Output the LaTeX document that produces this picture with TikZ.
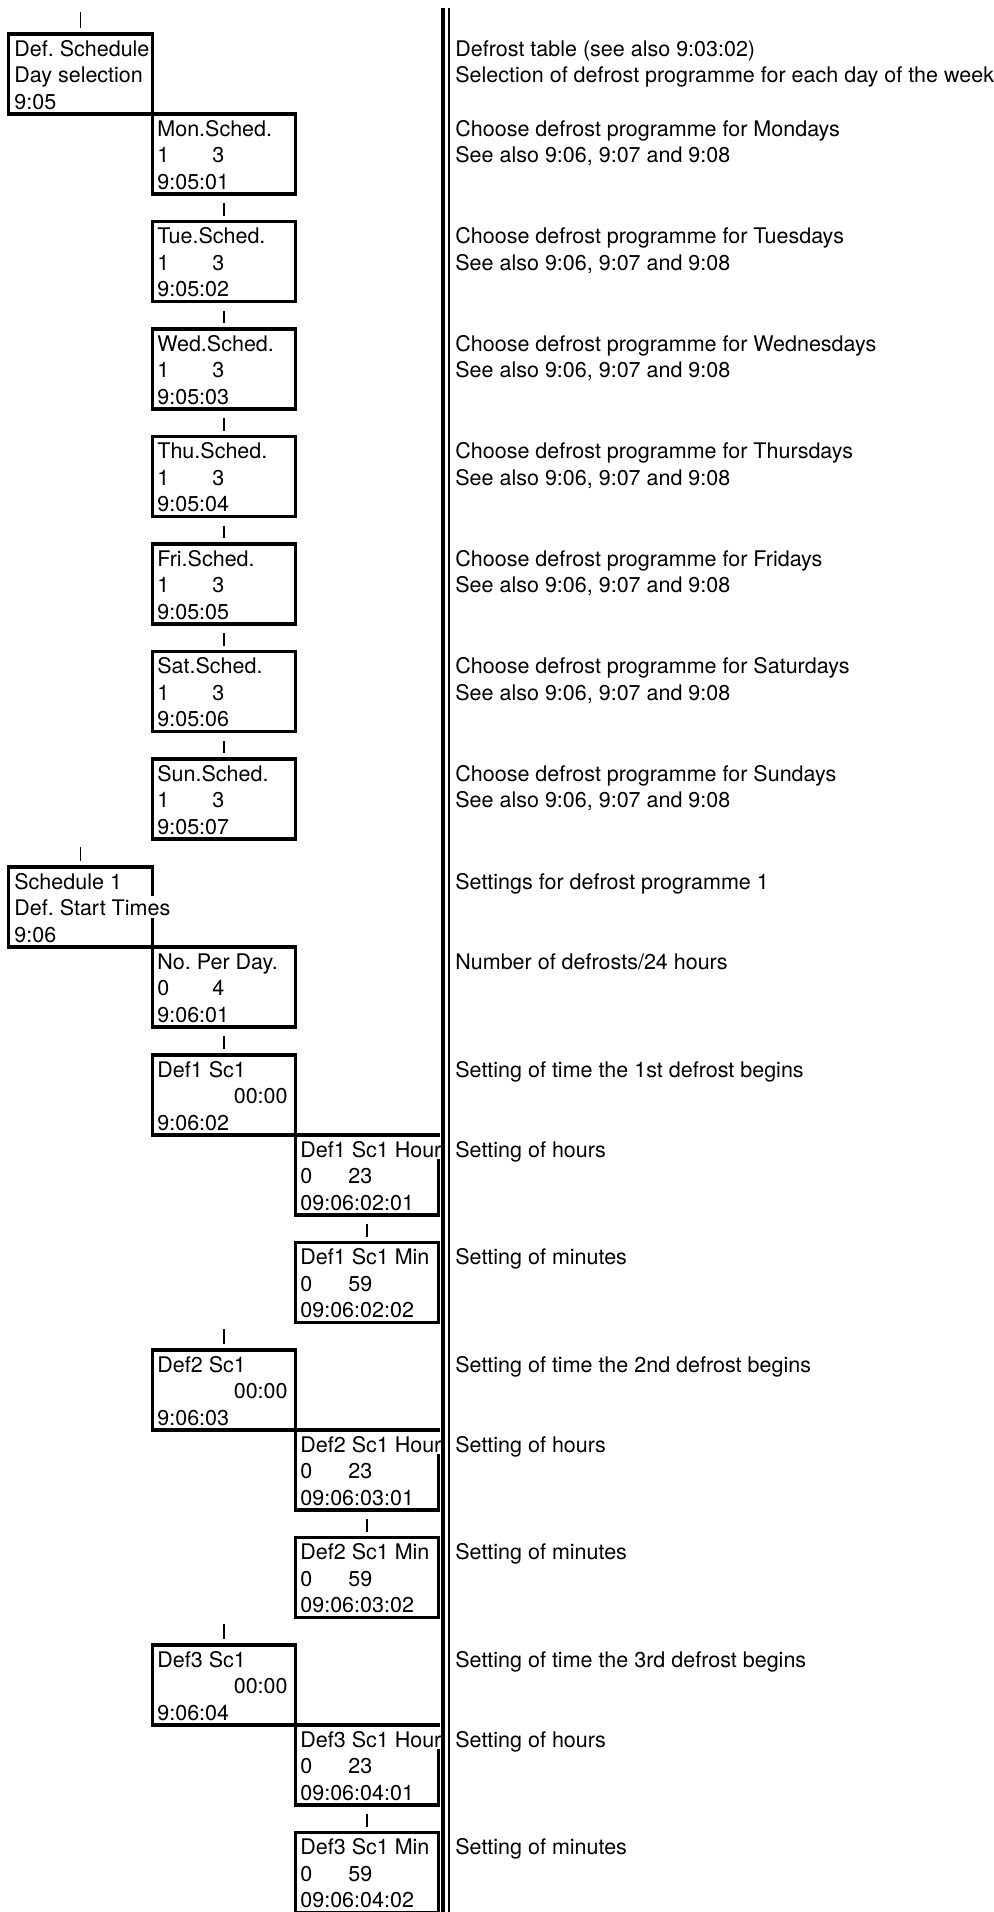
\documentclass[tikz,border=0pt]{standalone}
\usepackage{fontspec}
\setmainfont{TeX Gyre Heros}
\usepackage{tikz}
\frenchspacing
\tikzset{
  menubox/.style={draw=black,line width=1.6pt,inner sep=0pt,minimum height=40pt},
  colone/.style={menubox,minimum width=72pt},
  coltwo/.style={menubox,minimum width=71.5pt},
  menuline/.style={anchor=base west,fill=white,inner xsep=0.5pt,inner ysep=0pt,
                   text height=10pt,text depth=1.2pt,
                   font=\fontsize{10.75}{13}\selectfont},
  menuval/.style={menuline,anchor=base east},
  desc/.style={anchor=base west,inner sep=0pt,font=\fontsize{10.75}{13}\selectfont},
  tick/.style={line width=0.9pt,shorten >=2pt},
  seqtick/.style={tick,shorten <=3.75pt},
  thickrule/.style={line width=1.6pt},
  thinrule/.style={line width=1pt}
}

\begin{document}
\begin{tikzpicture}[x=0.5pt,y=0.5pt]
  \path[use as bounding box] (0,0) rectangle (994,-1912);

  % 9:05 day selection
  \node[colone] (defsched) at (80.5,-74) {};
  \node[menuline] (defsched-a) at (13,-56) {Def. Schedule};
  \node[menuline] (defsched-b) at (13,-82.5) {Day selection};
  \node[menuline] (defsched-c) at (13,-109) {9:05};
  \node[desc] (defsched-x) at (455,-56) {Defrost table (see also 9:03:02)};
  \node[desc] (defsched-y) at (455,-82.5) {Selection of defrost programme for each day of the week};

  \node[coltwo] (mon) at (224,-154) {};
  \node[menuline] (mon-a) at (156,-136) {Mon.Sched.};
  \node[menuline] (mon-b) at (156,-162.5) {1};
  \node[menuline] (mon-c) at (211,-162.5) {3};
  \node[menuline] (mon-d) at (156,-189) {9:05:01};
  \node[desc] (mon-x) at (455,-136) {Choose defrost programme for Mondays};
  \node[desc] (mon-y) at (455,-162.5) {See also 9:06, 9:07 and 9:08};

  \node[coltwo] (tue) at (224,-261.5) {};
  \node[menuline] (tue-a) at (156,-243.5) {Tue.Sched.};
  \node[menuline] (tue-b) at (156,-270) {1};
  \node[menuline] (tue-c) at (211,-270) {3};
  \node[menuline] (tue-d) at (156,-296.5) {9:05:02};
  \node[desc] (tue-x) at (455,-243.5) {Choose defrost programme for Tuesdays};
  \node[desc] (tue-y) at (455,-270) {See also 9:06, 9:07 and 9:08};

  \node[coltwo] (wed) at (224,-369) {};
  \node[menuline] (wed-a) at (156,-351) {Wed.Sched.};
  \node[menuline] (wed-b) at (156,-377.5) {1};
  \node[menuline] (wed-c) at (211,-377.5) {3};
  \node[menuline] (wed-d) at (156,-404) {9:05:03};
  \node[desc] (wed-x) at (455,-351) {Choose defrost programme for Wednesdays};
  \node[desc] (wed-y) at (455,-377.5) {See also 9:06, 9:07 and 9:08};

  \node[coltwo] (thu) at (224,-476.5) {};
  \node[menuline] (thu-a) at (156,-458.5) {Thu.Sched.};
  \node[menuline] (thu-b) at (156,-485) {1};
  \node[menuline] (thu-c) at (211,-485) {3};
  \node[menuline] (thu-d) at (156,-511.5) {9:05:04};
  \node[desc] (thu-x) at (455,-458.5) {Choose defrost programme for Thursdays};
  \node[desc] (thu-y) at (455,-485) {See also 9:06, 9:07 and 9:08};

  \node[coltwo] (fri) at (224,-584) {};
  \node[menuline] (fri-a) at (156,-566) {Fri.Sched.};
  \node[menuline] (fri-b) at (156,-592.5) {1};
  \node[menuline] (fri-c) at (211,-592.5) {3};
  \node[menuline] (fri-d) at (156,-619) {9:05:05};
  \node[desc] (fri-x) at (455,-566) {Choose defrost programme for Fridays};
  \node[desc] (fri-y) at (455,-592.5) {See also 9:06, 9:07 and 9:08};

  \node[coltwo] (sat) at (224,-691.5) {};
  \node[menuline] (sat-a) at (156,-673.5) {Sat.Sched.};
  \node[menuline] (sat-b) at (156,-700) {1};
  \node[menuline] (sat-c) at (211,-700) {3};
  \node[menuline] (sat-d) at (156,-726.5) {9:05:06};
  \node[desc] (sat-x) at (455,-673.5) {Choose defrost programme for Saturdays};
  \node[desc] (sat-y) at (455,-700) {See also 9:06, 9:07 and 9:08};

  \node[coltwo] (sun) at (224,-799) {};
  \node[menuline] (sun-a) at (156,-781) {Sun.Sched.};
  \node[menuline] (sun-b) at (156,-807.5) {1};
  \node[menuline] (sun-c) at (211,-807.5) {3};
  \node[menuline] (sun-d) at (156,-834) {9:05:07};
  \node[desc] (sun-x) at (455,-781) {Choose defrost programme for Sundays};
  \node[desc] (sun-y) at (455,-807.5) {See also 9:06, 9:07 and 9:08};

  % 9:06 start times
  \node[colone] (sched1) at (80.5,-907) {};
  \node[menuline] (sched1-a) at (13,-889) {Schedule 1};
  \node[menuline] (sched1-b) at (13,-915.5) {Def. Start Times};
  \node[menuline] (sched1-c) at (13,-942) {9:06};
  \node[desc] (sched1-x) at (455,-889) {Settings for defrost programme 1};

  \node[coltwo] (perday) at (224,-987) {};
  \node[menuline] (perday-a) at (156,-969) {No. Per Day.};
  \node[menuline] (perday-b) at (156,-995.5) {0};
  \node[menuline] (perday-c) at (211,-995.5) {4};
  \node[menuline] (perday-d) at (156,-1022) {9:06:01};
  \node[desc] (perday-x) at (455,-969) {Number of defrosts/24 hours};

  \node[coltwo] (def1) at (224,-1095) {};
  \node[menuline] (def1-a) at (156,-1077) {Def1 Sc1};
  \node[menuval] (def1-b) at (289,-1103.5) {00:00};
  \node[menuline] (def1-c) at (156,-1130) {9:06:02};
  \node[desc] (def1-x) at (455,-1077) {Setting of time the 1st defrost begins};

  \node[coltwo] (def1h) at (367,-1175) {};
  \node[menuline] (def1h-a) at (299,-1157) {Def1 Sc1 Hour};
  \node[menuline] (def1h-b) at (299,-1183.5) {0};
  \node[menuline] (def1h-c) at (347,-1183.5) {23};
  \node[menuline] (def1h-d) at (299,-1210) {09:06:02:01};
  \node[desc] (def1h-x) at (455,-1157) {Setting of hours};

  \node[coltwo] (def1m) at (367,-1282.5) {};
  \node[menuline] (def1m-a) at (299,-1264.5) {Def1 Sc1 Min};
  \node[menuline] (def1m-b) at (299,-1291) {0};
  \node[menuline] (def1m-c) at (347,-1291) {59};
  \node[menuline] (def1m-d) at (299,-1317.5) {09:06:02:02};
  \node[desc] (def1m-x) at (455,-1264.5) {Setting of minutes};

  \node[coltwo] (def2) at (224,-1390) {};
  \node[menuline] (def2-a) at (156,-1372) {Def2 Sc1};
  \node[menuval] (def2-b) at (289,-1398.5) {00:00};
  \node[menuline] (def2-c) at (156,-1425) {9:06:03};
  \node[desc] (def2-x) at (455,-1372) {Setting of time the 2nd defrost begins};

  \node[coltwo] (def2h) at (367,-1470) {};
  \node[menuline] (def2h-a) at (299,-1452) {Def2 Sc1 Hour};
  \node[menuline] (def2h-b) at (299,-1478.5) {0};
  \node[menuline] (def2h-c) at (347,-1478.5) {23};
  \node[menuline] (def2h-d) at (299,-1505) {09:06:03:01};
  \node[desc] (def2h-x) at (455,-1452) {Setting of hours};

  \node[coltwo] (def2m) at (367,-1577.5) {};
  \node[menuline] (def2m-a) at (299,-1559.5) {Def2 Sc1 Min};
  \node[menuline] (def2m-b) at (299,-1586) {0};
  \node[menuline] (def2m-c) at (347,-1586) {59};
  \node[menuline] (def2m-d) at (299,-1612.5) {09:06:03:02};
  \node[desc] (def2m-x) at (455,-1559.5) {Setting of minutes};

  \node[coltwo] (def3) at (224,-1685) {};
  \node[menuline] (def3-a) at (156,-1667) {Def3 Sc1};
  \node[menuval] (def3-b) at (289,-1693.5) {00:00};
  \node[menuline] (def3-c) at (156,-1720) {9:06:04};
  \node[desc] (def3-x) at (455,-1667) {Setting of time the 3rd defrost begins};

  \node[coltwo] (def3h) at (367,-1765) {};
  \node[menuline] (def3h-a) at (299,-1747) {Def3 Sc1 Hour};
  \node[menuline] (def3h-b) at (299,-1773.5) {0};
  \node[menuline] (def3h-c) at (347,-1773.5) {23};
  \node[menuline] (def3h-d) at (299,-1800) {09:06:04:01};
  \node[desc] (def3h-x) at (455,-1747) {Setting of hours};

  \node[coltwo] (def3m) at (367,-1872.5) {};
  \node[menuline] (def3m-a) at (299,-1854.5) {Def3 Sc1 Min};
  \node[menuline] (def3m-b) at (299,-1881) {0};
  \node[menuline] (def3m-c) at (347,-1881) {59};
  \node[menuline] (def3m-d) at (299,-1907.5) {09:06:04:02};
  \node[desc] (def3m-x) at (455,-1854.5) {Setting of minutes};

  % ticks between steps
  \coordinate (tA) at (80.5,-12);
  \coordinate (tB) at (80.5,-847);
  \coordinate (tC) at (224,-1329);
  \coordinate (tD) at (224,-1624);
  \draw[tick] (tA) -- (defsched);
  \draw[tick] (tB) -- (sched1);
  \draw[tick] (tC) -- (def2);
  \draw[tick] (tD) -- (def3);
  \draw[seqtick] (mon) -- (tue);
  \draw[seqtick] (tue) -- (wed);
  \draw[seqtick] (wed) -- (thu);
  \draw[seqtick] (thu) -- (fri);
  \draw[seqtick] (fri) -- (sat);
  \draw[seqtick] (sat) -- (sun);
  \draw[seqtick] (perday) -- (def1);
  \draw[seqtick] (def1h) -- (def1m);
  \draw[seqtick] (def2h) -- (def2m);
  \draw[seqtick] (def3h) -- (def3m);

  % double rule
  \draw[thickrule] (443,-8) -- (443,-1912);
  \draw[thinrule] (448.5,-8) -- (448.5,-1912);
\end{tikzpicture}
\end{document}
